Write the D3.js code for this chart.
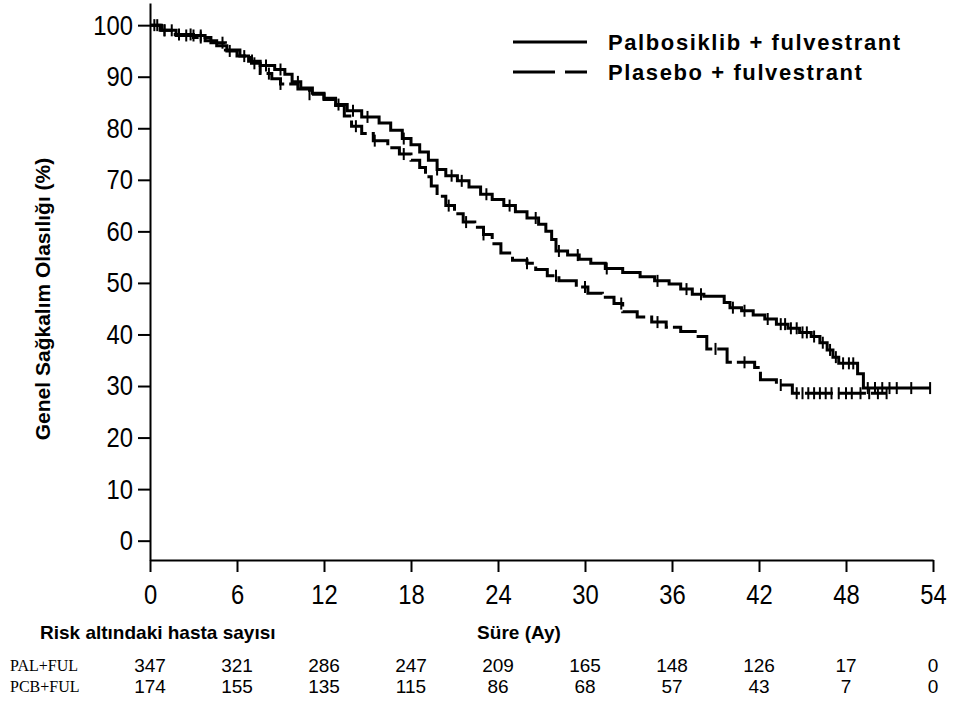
<!DOCTYPE html>
<html>
<head>
<meta charset="utf-8">
<script src="https://cdn.jsdelivr.net/npm/d3@7"></script>
<style>
  body { margin: 0; background: #fff; }
  text { fill: #000; }
  .tick text { font-family: "Liberation Sans", Arial, sans-serif; font-size: 28px; }
</style>
</head>
<body>
<svg id="chart" width="956" height="704"></svg>
<script>
// x ticks (months)
var months = [0, 6, 12, 18, 24, 30, 36, 42, 48, 54];
var yTicks = [0, 10, 20, 30, 40, 50, 60, 70, 80, 90, 100];

// Palbosiklib + fulvestrant : step times / survival (%)
var palTime = [0, 0.8, 1.8, 3.8, 4.6, 5.3, 6.0, 6.8, 7.6, 8.6, 9.3, 9.8, 10.4, 11.2, 12.0, 12.8, 13.6, 14.6, 15.8, 16.6, 17.4, 18.0, 18.6, 19.2, 19.8, 20.4, 21.2, 22.0, 22.8, 23.6, 24.4, 25.2, 26.0, 26.8, 27.3, 27.7, 28.0, 28.8, 29.6, 30.4, 31.4, 32.6, 33.8, 34.8, 35.8, 36.6, 37.4, 38.2, 39.6, 40.0, 40.8, 41.6, 42.4, 43.2, 44.0, 44.8, 45.6, 46.2, 46.7, 47.1, 47.5, 48.8, 49.2, 53.8];
var palSurv = [100, 99, 98, 97, 96, 95, 94, 93, 92.2, 91.4, 90.5, 89, 87.8, 86.8, 85.8, 84.6, 83.4, 82.2, 81, 79.6, 78, 76.8, 75.4, 73.8, 72, 70.8, 69.8, 68.6, 67.2, 66.2, 65, 63.8, 62.6, 61.4, 60, 58.4, 56.2, 55.4, 54.6, 53.8, 52.8, 52, 51.2, 50.4, 49.8, 48.8, 47.8, 47.4, 46.2, 45.2, 44.6, 43.8, 43, 42, 41.2, 40.4, 39.6, 38.4, 37, 35.6, 34.4, 32.4, 29.6, 29.6];
var palCens = [0.5, 1, 1.5, 2.5, 3, 3.5, 5.5, 6.5, 8, 9, 10.2, 13, 14, 15, 17.5, 19.8, 20.8, 21.5, 23.2, 24.8, 26.6, 28.2, 29.5, 31.5, 35, 37, 38, 40.2, 41, 42.6, 43.5, 43.8, 44.2, 44.6, 45, 45.3, 45.8, 46.4, 46.9, 47.3, 47.8, 48.2, 48.5, 49.5, 50, 50.5, 51, 51.5, 52.5, 53.8];

// Plasebo + fulvestrant
var pcbTime = [0, 0.7, 1.6, 3.0, 4.2, 5.2, 6.2, 7.0, 7.6, 8.4, 9.0, 10.2, 11.0, 12.0, 12.8, 13.4, 13.9, 14.6, 15.4, 16.4, 17.2, 18.0, 18.6, 19.0, 19.4, 19.8, 20.4, 21.0, 21.6, 22.4, 23.0, 23.6, 24.2, 25.0, 26.0, 26.6, 27.4, 28.2, 29.4, 30.2, 31.2, 32.0, 32.6, 33.6, 34.6, 35.6, 36.6, 37.6, 38.4, 39.8, 41.7, 42.1, 43.2, 44.3, 50.8];
var pcbSurv = [100, 99, 98.2, 97.6, 96.6, 95.2, 94, 92.6, 90.6, 89.6, 88.6, 87.6, 86.6, 85.6, 84.4, 82.4, 80.4, 79, 77.6, 76.2, 75, 73.8, 72.4, 70.6, 68.8, 66.8, 65, 63.4, 61.8, 60.8, 59.4, 57.6, 55.8, 54.4, 53.8, 52.6, 51.4, 50.4, 49.2, 48, 47.2, 46, 44.4, 43.4, 42.4, 41.4, 40.6, 39.6, 37.2, 34.6, 33.6, 31.2, 30.2, 28.6, 28.6];
var pcbCens = [0.3, 1, 2, 2.8, 3.5, 5, 7.2, 8.2, 9, 11, 14.2, 15.5, 17.5, 20.6, 21.8, 23, 26, 28, 30, 32.5, 35, 39, 41, 43.5, 44.6, 45, 45.4, 45.8, 46.2, 46.6, 47, 47.5, 48, 48.4, 49, 49.6, 50.2, 50.8];

// numbers at risk
var riskPal = [347, 321, 286, 247, 209, 165, 148, 126, 17, 0];
var riskPcb = [174, 155, 135, 115, 86, 68, 57, 43, 7, 0];

var svg = d3.select("#chart");

var x = d3.scaleLinear().domain([0, 54]).range([150, 933]);
var y = d3.scaleLinear().domain([-3.75, 104.3]).range([560, 3]);

// tick labels in the picture are a narrow face; squeeze the regular one
var squeeze = 0.85;

svg.append("g")
  .attr("transform", "translate(0,560)")
  .call(d3.axisBottom(x).tickValues(months).tickSize(12).tickPadding(12).tickSizeOuter(0))
  .selectAll(".tick text")
  .attr("transform", `scale(${squeeze},1)`);

svg.append("g")
  .attr("transform", "translate(150,0)")
  .call(d3.axisLeft(y).tickValues(yTicks).tickSize(12).tickPadding(5).tickSizeOuter(0))
  .selectAll(".tick text")
  .attr("x", -17 / squeeze)
  .attr("transform", `scale(${squeeze},1)`);

svg.selectAll(".domain, .tick line").attr("stroke", "#000").attr("stroke-width", 2);

function survAt(times, surv, t) {
  let s = surv[0];
  for (let i = 0; i < times.length; i++) {
    if (times[i] <= t) s = surv[i];
  }
  return s;
}

var line = d3.line()
  .x(d => x(d[0]))
  .y(d => y(d[1]))
  .curve(d3.curveStepAfter);

function drawCurve(times, surv, cens, dash) {
  let pts = times.map((t, i) => [t, surv[i]]);
  svg.append("path")
    .datum(pts)
    .attr("fill", "none")
    .attr("stroke", "#000")
    .attr("stroke-width", 3)
    .attr("stroke-dasharray", dash)
    .attr("d", line);
  let g = svg.append("g").attr("stroke", "#000").attr("stroke-width", 2);
  g.selectAll("line")
    .data(cens)
    .enter()
    .append("line")
    .attr("x1", d => x(d))
    .attr("x2", d => x(d))
    .attr("y1", d => y(survAt(times, surv, d)) - 6)
    .attr("y2", d => y(survAt(times, surv, d)) + 6);
}

drawCurve(pcbTime, pcbSurv, pcbCens, "28,5");
drawCurve(palTime, palSurv, palCens, null);

// y label
svg.append("text")
  .attr("transform", "translate(50,299) rotate(-90)")
  .attr("text-anchor", "middle")
  .style("font-family", "Liberation Sans, Arial, sans-serif")
  .style("font-weight", "bold")
  .style("font-size", "21px")
  .text("Genel Sağkalım Olasılığı (%)");

// legend
var legend = [
  { name: "Palbosiklib + fulvestrant", dash: null, y: 42 },
  { name: "Plasebo + fulvestrant", dash: "42,10", y: 72 }
];
legend.forEach(d => {
  svg.append("line")
    .attr("x1", 513).attr("x2", 587)
    .attr("y1", d.y).attr("y2", d.y)
    .attr("stroke", "#000")
    .attr("stroke-width", 3)
    .attr("stroke-dasharray", d.dash);
  svg.append("text")
    .attr("x", 608).attr("y", d.y)
    .attr("dy", "0.35em")
    .style("font-family", "Liberation Sans, Arial, sans-serif")
    .style("font-weight", "bold")
    .style("font-size", "22px")
    .style("letter-spacing", "1.6px")
    .text(d.name);
});

// risk table
var sans = "Liberation Sans, Arial, sans-serif";
svg.append("text")
  .attr("x", 40).attr("y", 632).attr("dy", "0.35em")
  .style("font-family", sans).style("font-weight", "bold").style("font-size", "19px")
  .text("Risk altındaki hasta sayısı");
svg.append("text")
  .attr("x", 519).attr("y", 632).attr("dy", "0.35em")
  .attr("text-anchor", "middle")
  .style("font-family", sans).style("font-weight", "bold").style("font-size", "19px")
  .text("Süre (Ay)");

var rows = [
  { label: "PAL+FUL", values: riskPal, y: 665 },
  { label: "PCB+FUL", values: riskPcb, y: 686 }
];
rows.forEach(r => {
  svg.append("text")
    .attr("x", 10).attr("y", r.y).attr("dy", "0.35em")
    .style("font-family", "Liberation Serif, Times New Roman, serif")
    .style("font-size", "16px")
    .text(r.label);
  svg.append("g").selectAll("text")
    .data(r.values)
    .enter()
    .append("text")
    .attr("x", (d, i) => x(months[i]))
    .attr("y", r.y).attr("dy", "0.35em")
    .attr("text-anchor", "middle")
    .style("font-family", sans)
    .style("font-size", "19px")
    .text(d => d);
});
</script>
</body>
</html>
